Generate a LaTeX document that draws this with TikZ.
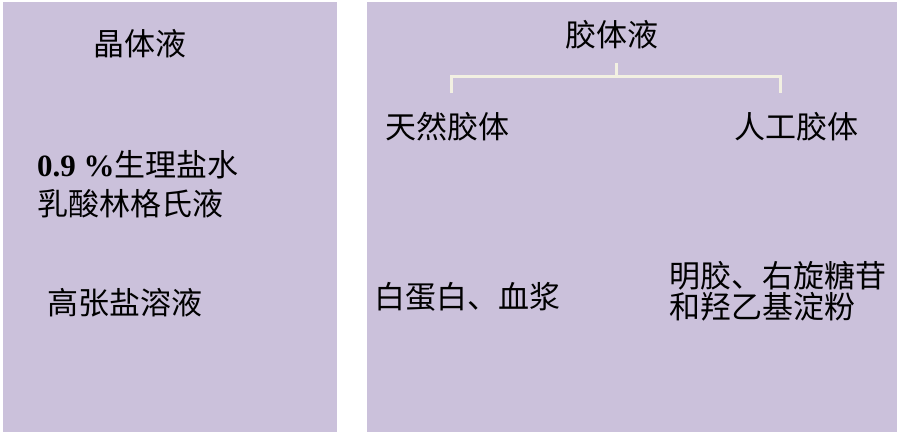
\documentclass[tikz,border=0pt]{standalone}
\usepackage{fontspec}
\setmainfont{Noto Sans CJK SC}
\newfontfamily\latinbf{Liberation Serif}
\usetikzlibrary{positioning}
\definecolor{panelpurple}{RGB}{203,193,219}
\definecolor{bracketcream}{RGB}{242,240,226}
\tikzset{
  panel/.style={fill=panelpurple, draw=none},
  label/.style={inner sep=0pt, font=\fontsize{31}{39}\selectfont},
  bracket/.style={draw=bracketcream, line width=3pt}
}
\begin{document}
\begin{tikzpicture}[x=1pt, y=-1pt]
    \useasboundingbox (0,0) rectangle (903,435);

    % two panels
    \fill[panel] (3,2) rectangle (337,432);
    \fill[panel] (367,2) rectangle (897,432);

    % crystalloid side
    \node[label] (cryst) at (140,44) {晶体液};
    \node[label, anchor=west, align=left] (saline) at (37,184)
        {{\latinbf\bfseries 0.9 \%}生理盐水\\乳酸林格氏液};
    \node[label, anchor=west] (hyper) at (47,303) {高张盐溶液};

    % colloid side
    \node[label] (coll) at (612,35) {胶体液};
    \node[label] (natural) at (447,127) {天然胶体};
    \node[label] (artificial) at (796,127) {人工胶体};
    \node[label, anchor=west] (albumin) at (374,297) {白蛋白、血浆};
    \node[label, anchor=west, align=left,
          font=\fontsize{31}{31}\selectfont] (gelatin) at (669,291)
        {明胶、右旋糖苷\\和羟乙基淀粉};

    % bracket under the colloid heading
    \coordinate (stem) at (616,63);
    \coordinate (bar) at (616,77);
    \coordinate (legL) at (451,93);
    \coordinate (legR) at (780,93);
    \draw[bracket] (stem) -- (bar);
    \draw[bracket] (legL) |- (bar);
    \draw[bracket] (legR) |- (bar);
\end{tikzpicture}
\end{document}
